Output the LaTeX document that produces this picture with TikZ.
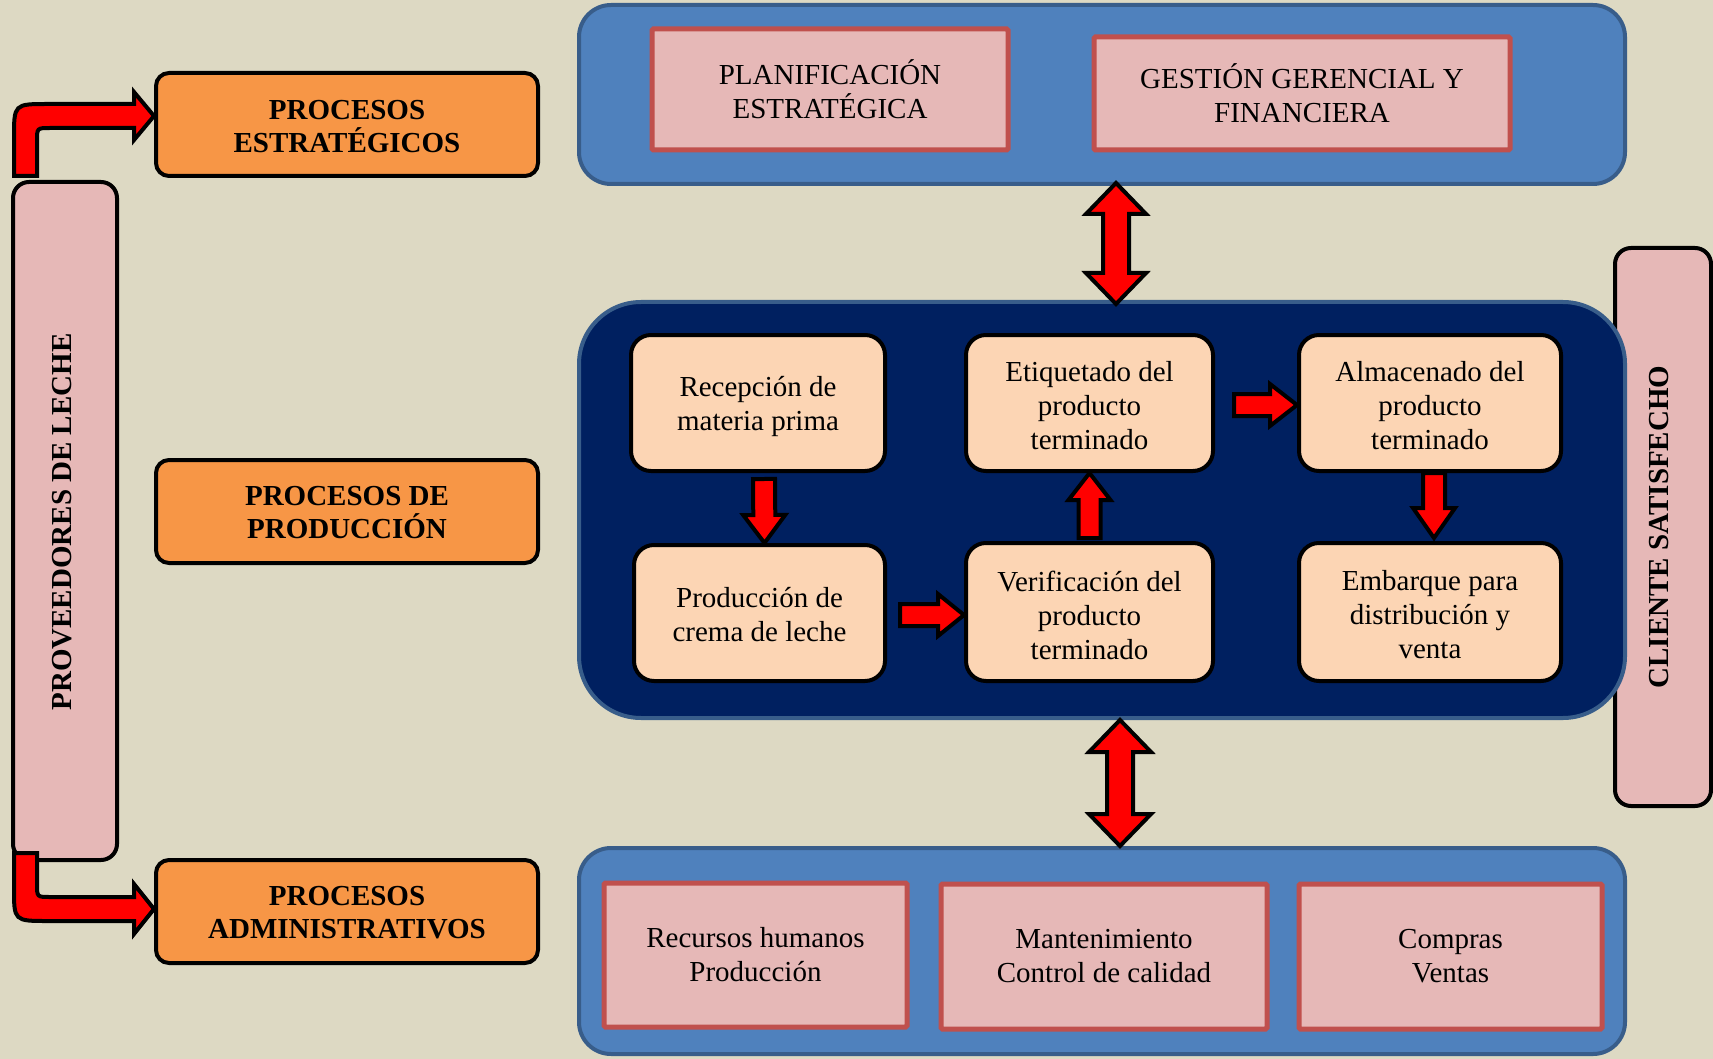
\documentclass[tikz,border=0pt]{standalone}
\usepackage{fontspec}
\setmainfont{Liberation Serif}
\usetikzlibrary{calc}
\definecolor{bgc}{HTML}{DDD9C3}
\definecolor{orangec}{HTML}{F79646}
\definecolor{pinkc}{HTML}{E6B8B7}
\definecolor{redb}{HTML}{C0504D}
\definecolor{panelc}{HTML}{4F81BD}
\definecolor{panelb}{HTML}{385D8A}
\definecolor{navyc}{HTML}{002060}
\definecolor{peachc}{HTML}{FCD5B4}
\definecolor{arrowred}{HTML}{FF0000}
\newcommand\blockarrow[5]{%
  \path ($(#2)!#5pt!(#1)$) coordinate (bah);
  \draw[barrow] ($(#1)!#3pt!90:(#2)$) -- ($(bah)!#3pt!90:(#2)$) -- ($(bah)!#4pt!90:(#2)$) -- (#2)
     -- ($(bah)!#4pt!-90:(#2)$) -- ($(bah)!#3pt!-90:(#2)$) -- ($(#1)!#3pt!-90:(#2)$) -- cycle;}
\newcommand\dblarrow[5]{%
  \path ($(#2)!#5pt!(#1)$) coordinate (dbe) ($(#1)!#5pt!(#2)$) coordinate (dbs);
  \draw[barrow] (#1) -- ($(dbs)!#4pt!90:(#2)$) -- ($(dbs)!#3pt!90:(#2)$) -- ($(dbe)!#3pt!90:(#2)$)
     -- ($(dbe)!#4pt!90:(#2)$) -- (#2) -- ($(dbe)!#4pt!-90:(#2)$) -- ($(dbe)!#3pt!-90:(#2)$)
     -- ($(dbs)!#3pt!-90:(#2)$) -- ($(dbs)!#4pt!-90:(#2)$) -- cycle;}
\begin{document}
\begin{tikzpicture}[x=1pt,y=-1pt,
  every node/.style={font=\fontsize{29}{34}\selectfont, inner sep=0pt, align=center},
  obox/.style={draw=black, line width=4, fill=orangec, rounded corners=13,
     font=\fontsize{29}{33}\selectfont\bfseries},
  sidebox/.style={draw=black, line width=4, fill=pinkc, rounded corners=16},
  pbox/.style={draw=black, line width=4, fill=peachc, rounded corners=20},
  ptext/.style={font=\fontsize{29}{34}\selectfont},
  rbox/.style={draw=redb, line width=5, fill=pinkc, rounded corners=1.5},
  panel/.style={draw=panelb, line width=4, fill=panelc, rounded corners=32},
  navypanel/.style={draw=panelb, line width=4, fill=navyc, rounded corners=62},
  barrow/.style={draw=black, line width=4, fill=arrowred, line join=miter}]
\useasboundingbox (0,0) rectangle (1713,1059);
\fill[bgc] (0,0) rectangle (1713,1059);

% right side box (under the middle panel)
\node[sidebox, minimum width=96, minimum height=558] (cli) at (1663,527) {};
\node[rotate=90, font=\fontsize{29}{33}\selectfont\bfseries] (clit) at (1659,527) {CLIENTE SATISFECHO};

% panels
\node[panel, minimum width=1046, minimum height=179] (top) at (1102,94.5) {};
\node[navypanel, minimum width=1046, minimum height=416] (mid) at (1102,510) {};
\node[panel, minimum width=1046, minimum height=206] (bot) at (1102,951) {};

% top panel boxes
\node[rbox, minimum width=356, minimum height=121] (plan) at (830,89.5) {PLANIFICACIÓN\\ESTRATÉGICA};
\node[rbox, minimum width=416, minimum height=113] (gest) at (1302,93.5) {GESTIÓN GERENCIAL Y\\FINANCIERA};

% bottom panel boxes
\node[rbox, minimum width=303, minimum height=144] (rh) at (755.5,955) {Recursos humanos\\Producción};
\node[rbox, minimum width=326, minimum height=145] (mc) at (1104,956.5) {Mantenimiento\\Control de calidad};
\node[rbox, minimum width=303, minimum height=145] (cv) at (1450.5,956.5) {Compras\\Ventas};

% process boxes
\node[pbox, minimum width=254, minimum height=136] (rec) at (758,403) {};
\node[ptext] (rect) at (758,407) {Recepción de\\materia prima};
\node[pbox, minimum width=251, minimum height=136] (prod) at (759.5,613) {};
\node[ptext] (prodt) at (759.5,615) {Producción de\\crema de leche};
\node[pbox, minimum width=247, minimum height=136] (etiq) at (1089.5,403) {};
\node[ptext] (etiqt) at (1089.5,406) {Etiquetado del\\producto\\terminado};
\node[pbox, minimum width=247, minimum height=138] (ver) at (1089.5,612) {};
\node[ptext] (vert) at (1089.5,615) {Verificación del\\producto\\terminado};
\node[pbox, minimum width=262, minimum height=136] (alm) at (1430,403) {};
\node[ptext] (almt) at (1430,406) {Almacenado del\\producto\\terminado};
\node[pbox, minimum width=262, minimum height=138] (emb) at (1430,612) {};
\node[ptext] (embt) at (1430,615) {Embarque para\\distribución y\\venta};

% left column
\node[sidebox, minimum width=104, minimum height=678] (prov) at (65,521) {};
\node[rotate=90, font=\fontsize{29}{33}\selectfont\bfseries] (provt) at (62,522) {PROVEEDORES DE LECHE};
\node[obox, minimum width=382, minimum height=103] (pe) at (347,124.5) {};
\node[font=\fontsize{29}{33}\selectfont\bfseries] (pet) at (347,127) {PROCESOS\\ESTRATÉGICOS};
\node[obox, minimum width=382, minimum height=103] (pp) at (347,511.5) {};
\node[font=\fontsize{29}{33}\selectfont\bfseries] (ppt) at (347,513) {PROCESOS DE\\PRODUCCIÓN};
\node[obox, minimum width=382, minimum height=103] (pa) at (347,911.5) {};
\node[font=\fontsize{29}{33}\selectfont\bfseries] (pat) at (347,913) {PROCESOS\\ADMINISTRATIVOS};

% bent arrows from the suppliers
\draw[barrow] (14,176) -- (14,138) .. controls (14,104) .. (48,104) -- (134,104) -- (134,92)
  -- (pe.west |- 0,116) -- (134,140) -- (134,128) -- (50,128) .. controls (37,128) .. (37,141)
  -- (37,176) -- cycle;
\draw[barrow] (14,853) -- (14,888) .. controls (14,921) .. (48,921) -- (134,921) -- (134,934)
  -- (pa.west |- 0,909) -- (134,884) -- (134,897) -- (50,897) .. controls (37,897) .. (37,884)
  -- (37,853) -- cycle;

% arrows between process boxes
\coordinate (a1s) at ($(rec.south)+(6,6)$);
\coordinate (a1e) at ($(prod.north)+(5,0)$);
\blockarrow{a1s}{a1e}{11}{21}{28}
\coordinate (a2s) at ($(prod.east)+(13,2)$);
\coordinate (a2e) at ($(ver.west |- a2s)$);
\blockarrow{a2s}{a2e}{11}{21}{26}
\coordinate (a3s) at ($(ver.north)+(0,-3)$);
\coordinate (a3e) at (etiq.south);
\blockarrow{a3s}{a3e}{11}{21}{27}
\coordinate (a4s) at ($(etiq.east)+(19,2)$);
\coordinate (a4e) at ($(alm.west |- a4s)$);
\blockarrow{a4s}{a4e}{11}{21}{27}
\coordinate (a5s) at ($(alm.south)+(4,0)$);
\coordinate (a5e) at ($(emb.north)+(4,-3)$);
\blockarrow{a5s}{a5e}{11}{21}{30}

% double arrows between panels
\coordinate (d1s) at ($(top.south)+(14,-3)$);
\coordinate (d1e) at ($(mid.north)+(14,4)$);
\dblarrow{d1s}{d1e}{13}{30}{31}
\coordinate (d2s) at ($(mid.south)+(18,0)$);
\coordinate (d2e) at ($(bot.north)+(18,0)$);
\dblarrow{d2s}{d2e}{13}{31}{32}
\end{tikzpicture}
\end{document}
